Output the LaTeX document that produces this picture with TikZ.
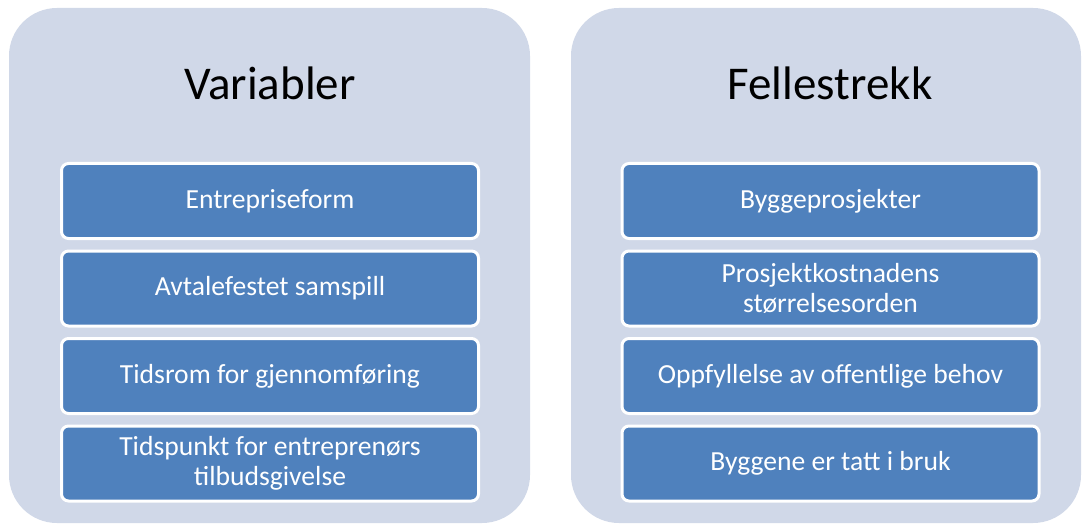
\documentclass[tikz,border=0pt]{standalone}
\usepackage{fontspec}
\setmainfont{Carlito}
\definecolor{panelfill}{HTML}{D0D8E8}
\definecolor{itemfill}{HTML}{4F81BD}
\begin{document}
\begin{tikzpicture}[x=1pt,y=-1pt,
  panel/.style={fill=panelfill, draw=none, rounded corners=48pt, inner sep=0pt},
  heading/.style={anchor=base, text=black, font=\fontsize{47}{50}\selectfont, inner sep=0pt},
  item/.style={rectangle, rounded corners=7pt, fill=itemfill, draw=white, line width=3pt,
    minimum width=417pt, minimum height=75pt, inner sep=0pt, align=center,
    text=white, font=\fontsize{27.6}{30.5}\selectfont}
]
\useasboundingbox (0,0) rectangle (1082,524);
\fill[white] (0,0) rectangle (1082,524);

% the two background panels
\path[panel] (9,8) rectangle (530,523) node[coordinate] (lp) {};
\path[panel] (571,8) rectangle (1081,523) node[coordinate] (rp) {};

% headings
\node[heading] (hv) at (270,100) {Variabler};
\node[heading] (hf) at (830,100) {Fellestrekk};

% left column
\node[item] (v1) at (270,201)   {Entrepriseform};
\node[item] (v2) at (270,288.5) {Avtalefestet samspill};
\node[item] (v3) at (270,376)   {Tidsrom for gjennomføring};
\node[item] (v4) at (270,463.5) {Tidspunkt for entreprenørs\\tilbudsgivelse};

% right column
\node[item] (f1) at (830.5,201)   {Byggeprosjekter};
\node[item] (f2) at (830.5,288.5) {Prosjektkostnadens\\størrelsesorden};
\node[item] (f3) at (830.5,376)   {Oppfyllelse av offentlige behov};
\node[item] (f4) at (830.5,463.5) {Byggene er tatt i bruk};
\end{tikzpicture}
\end{document}
